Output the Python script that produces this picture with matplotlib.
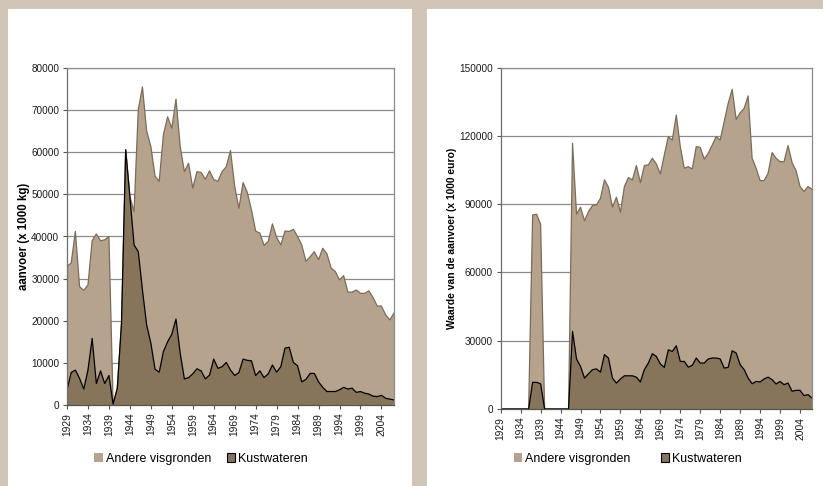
import matplotlib
matplotlib.use("Agg")
import matplotlib.pyplot as plt
from matplotlib.patches import Rectangle, Patch
import numpy as np

plt.rcParams['font.family'] = ['Liberation Sans', 'DejaVu Sans']

years = list(range(1929, 2008))
tick_years = list(range(1929, 2008, 5))

# Left panel: aanvoer (x 1000 kg)
kust_kg = [3600, 7700, 8300, 6300, 3800, 8300, 15800, 5100, 8100, 5100,
           7000, 200, 4000, 19400, 60600, 49500, 38000, 36400, 27300, 19000,
           14700, 8500, 7800, 12700, 15000, 16800, 20400, 12300, 6200, 6500,
           7400, 8600, 8100, 6200, 7100, 10900, 8700, 9100, 10100, 8300,
           7000, 7700, 10900, 10600, 10500, 7000, 8100, 6500, 7400, 9500,
           7800, 9100, 13500, 13700, 10100, 9300, 5500, 6100, 7500, 7500,
           5500, 4200, 3200, 3200, 3200, 3600, 4200, 3800, 4000, 3000,
           3200, 2800, 2600, 2100, 2000, 2300, 1600, 1400, 1200]
andere_kg = [29300, 26000, 32900, 21800, 23400, 20200, 23200, 35500, 30900, 34100,
             33000, 0, 0, 0, 0, 0, 7900, 33700, 48200, 46000,
             46700, 45800, 45300, 51500, 53400, 48900, 52200, 49100, 49200, 50900,
             44100, 46800, 47100, 47400, 48500, 42600, 44400, 46300, 46500, 52100,
             44900, 39000, 41900, 39900, 35800, 34300, 32700, 31400, 31400, 33500,
             32000, 28900, 27800, 27500, 31600, 30700, 32500, 28000, 27700, 28900,
             29000, 33000, 32700, 29300, 28500, 26100, 26500, 23000, 22800, 24300,
             23300, 23700, 24500, 23400, 21500, 21200, 19800, 18800, 20600]

# Right panel: waarde (x 1000 euro)
kust_eur = [0, 0, 0, 0, 0, 0, 0, 0, 11700, 11700,
            11100, 0, 0, 0, 0, 0, 0, 0, 34100, 22000,
            18700, 13600, 15500, 17300, 17600, 16200, 23900, 22400, 13600, 11400,
            13200, 14600, 14600, 14600, 14000, 11900, 17300, 20200, 24300, 23100,
            19800, 18300, 26000, 25300, 27800, 20900, 20900, 18400, 19200, 22400,
            20200, 20200, 22000, 22400, 22400, 22000, 18000, 18300, 25600, 24600,
            19500, 17300, 13600, 11100, 12100, 11900, 13200, 14000, 12900, 11000,
            12100, 10700, 11400, 7800, 8200, 8200, 5900, 6300, 4800]
andere_eur = [0, 0, 0, 0, 0, 0, 0, 0, 73600, 73900,
              70100, 0, 0, 0, 0, 0, 0, 0, 82700, 63600,
              70000, 69100, 71300, 72100, 72100, 76400, 76800, 75100, 75100, 81700,
              73300, 83200, 87100, 86100, 93000, 87600, 89700, 87100, 85900, 84600,
              83500, 93400, 93700, 92900, 101400, 94400, 84900, 88100, 86300, 92900,
              94800, 89600, 90400, 93600, 97300, 96200, 108300, 116000, 114900, 102700,
              110700, 114800, 124000, 99100, 93700, 88500, 87200, 89600, 99800, 99200,
              96600, 98000, 104400, 100500, 96600, 89600, 89700, 91500, 91800]

labels = ["Andere visgronden", "Kustwateren"]

BG = "#d0c5b6"
LIGHT = "#b5a38d"
LIGHT_EDGE = "#7c6b58"
DARK = "#86745b"
GRID = "#8c8c8c"

W, H = 823, 486
fig = plt.figure(figsize=(W / 100, H / 100), dpi=100)
fig.patch.set_facecolor(BG)

def px_rect(x0, y0, x1, y1):
    return [x0 / W, 1 - y1 / H, (x1 - x0) / W, (y1 - y0) / H]

for (x0, y0, x1, y1) in [(8, 9, 412, 486), (427, 9, 823, 486)]:
    fig.patches.append(Rectangle((x0 / W, 1 - y1 / H), (x1 - x0) / W, (y1 - y0) / H,
                                 transform=fig.transFigure, facecolor="white",
                                 edgecolor="none", zorder=-5))

def draw_panel(rect, kust, andere, ymax, ystep, ylabel, ylabel_size, ylabel_x):
    ax = fig.add_axes(px_rect(*rect))
    ax.set_zorder(2)
    x = np.array(years)
    k = np.array(kust, dtype=float)
    t = k + np.array(andere, dtype=float)
    ax.fill_between(x, k, t, facecolor=LIGHT, edgecolor="none", zorder=2)
    ax.plot(x, t, color=LIGHT_EDGE, lw=0.9, zorder=3)
    ax.fill_between(x, 0, k, facecolor=DARK, edgecolor="none", zorder=4)
    ax.plot(x, k, color="black", lw=0.9, zorder=5)
    ax.set_xlim(years[0], years[-1])
    ax.set_ylim(0, ymax)
    ax.set_yticks(np.arange(0, ymax + 1, ystep))
    ax.set_yticklabels([str(int(v)) for v in np.arange(0, ymax + 1, ystep)], fontsize=7.2)
    ax.set_xticks(tick_years)
    ax.set_xticklabels([str(y) for y in tick_years], rotation=90, fontsize=7.4)
    ax.yaxis.grid(True, color=GRID, lw=0.9, zorder=1)
    ax.set_axisbelow(True)
    for s in ax.spines.values():
        s.set_color(GRID)
        s.set_linewidth(0.9)
        s.set_zorder(6)
    ax.spines['left'].set_color("#6e6e6e")
    ax.spines['bottom'].set_color("#555555")
    ax.tick_params(axis='both', length=3, width=0.8, color="#555555", pad=2.5,
                   labelcolor="#1a1a1a")
    fig.text(ylabel_x / W, 1 - (rect[1] + rect[3]) / 2 / H, ylabel, rotation=90,
             ha='center', va='center', fontsize=ylabel_size, fontweight='bold')
    return ax

axL = draw_panel((67, 68, 394, 405), kust_kg, andere_kg, 80000, 10000,
                 "aanvoer (x 1000 kg)", 8.3, 24)
axR = draw_panel((500.7, 67.7, 812, 409), kust_eur, andere_eur, 150000, 30000,
                 "Waarde van de aanvoer (x 1000 euro)", 7.4, 452)

def add_legend(cx, cy, colspace):
    handles = [Patch(facecolor=LIGHT, edgecolor="none"),
               Patch(facecolor=DARK, edgecolor="black", linewidth=0.8)]
    fig.legend(handles, labels, loc='center', bbox_to_anchor=(cx / W, 1 - cy / H),
               ncol=2, frameon=False, fontsize=9.0, handlelength=0.65,
               handleheight=0.65, handletextpad=0.25, columnspacing=colspace,
               borderaxespad=0, borderpad=0)

add_legend(201, 459, 1.25)
add_legend(628, 459, 2.45)

fig.savefig("out.png", dpi=100, facecolor=BG)
